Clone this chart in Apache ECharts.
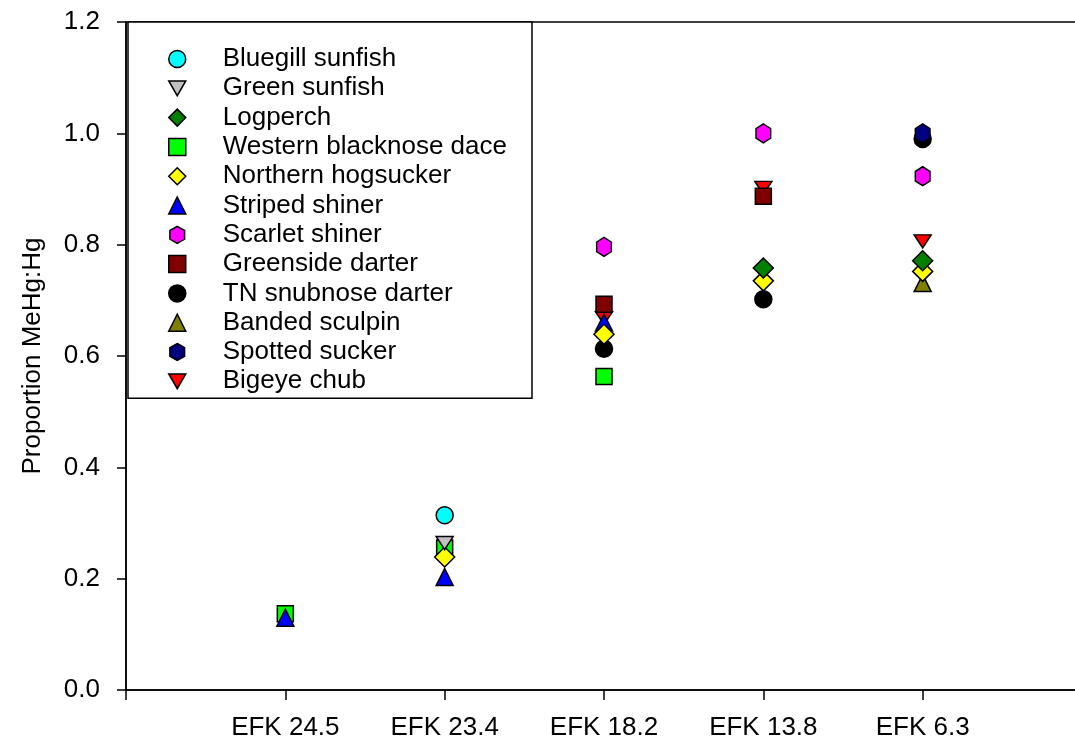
<!DOCTYPE html>
<html>
<head>
<meta charset="utf-8">
<title>Proportion MeHg:Hg by site</title>
<script src="https://cdn.jsdelivr.net/npm/echarts@6/dist/echarts.min.js"></script>
<style>
  html, body { margin: 0; padding: 0; background: #fff; }
  #chart { width: 1075px; height: 742px; }
</style>
</head>
<body>
<div id="chart"></div>
<script>
// Sampling sites along East Fork Poplar Creek (upstream -> downstream)
const sites = ['EFK 24.5', 'EFK 23.4', 'EFK 18.2', 'EFK 13.8', 'EFK 6.3'];

// Proportion MeHg:Hg per species at each site (null = not sampled)
const bluegillSunfish      = [null, 0.314, null,  null,  null ];
const greenSunfish         = [null, 0.264, null,  null,  null ];
const logperch             = [null, null,  null,  0.758, 0.771];
const westernBlacknoseDace = [0.137, 0.255, 0.563, null, null ];
const northernHogsucker    = [null, 0.239, 0.639, 0.735, 0.752];
const stripedShiner        = [0.130, 0.203, 0.660, null, null ];
const scarletShiner        = [null, null,  0.796, 1.000, 0.923];
const greensideDarter      = [null, null,  0.693, 0.887, null ];
const tnSnubnoseDarter     = [null, null,  0.613, 0.702, 0.990];
const bandedSculpin        = [null, null,  null,  null,  0.731];
const spottedSucker        = [null, null,  null,  null,  1.000];
const bigeyeChub           = [null, null,  0.668, 0.902, 0.806];

const speciesNames = [
  'Bluegill sunfish', 'Green sunfish', 'Logperch', 'Western blacknose dace',
  'Northern hogsucker', 'Striped shiner', 'Scarlet shiner', 'Greenside darter',
  'TN snubnose darter', 'Banded sculpin', 'Spotted sucker', 'Bigeye chub'
];
const speciesValues = [
  bluegillSunfish, greenSunfish, logperch, westernBlacknoseDace,
  northernHogsucker, stripedShiner, scarletShiner, greensideDarter,
  tnSnubnoseDarter, bandedSculpin, spottedSucker, bigeyeChub
];

// Marker shapes
const DOWN_TRIANGLE = 'path://M0,0 L20,0 L10,17.32 Z';
const HEXAGON = 'path://M8.66,0 L17.32,5 L17.32,15 L8.66,20 L0,15 L0,5 Z';

const markerStyles = [
  { symbol: 'circle',      size: 17,       color: '#00FFFF' },
  { symbol: DOWN_TRIANGLE, size: [17, 15], color: '#C0C0C0' },
  { symbol: 'diamond',     size: 20,       color: '#008000' },
  { symbol: 'rect',        size: 16,       color: '#00FF00' },
  { symbol: 'diamond',     size: 20,       color: '#FFFF00' },
  { symbol: 'triangle',    size: 17,       color: '#0000FF' },
  { symbol: HEXAGON,       size: [17, 19], color: '#FF00FF' },
  { symbol: 'rect',        size: 16,       color: '#800000' },
  { symbol: 'circle',      size: 17,       color: '#000000' },
  { symbol: 'triangle',    size: 17,       color: '#808000' },
  { symbol: HEXAGON,       size: [17, 19], color: '#000080' },
  { symbol: DOWN_TRIANGLE, size: [17, 15], color: '#FF0000' }
];

// Stacking order of the markers, bottom layer first
const drawOrder = [11, 9, 8, 3, 10, 7, 6, 5, 4, 2, 1, 0];

const FONT = "'Liberation Sans', Arial, Helvetica, sans-serif";

const series = drawOrder.map(function (idx) {
  const st = markerStyles[idx];
  const data = [];
  speciesValues[idx].forEach(function (v, i) {
    if (v !== null) data.push([i + 1, v]);
  });
  return {
    name: speciesNames[idx],
    type: 'scatter',
    data: data,
    symbol: st.symbol,
    symbolSize: st.size,
    symbolKeepAspect: true,
    itemStyle: { color: st.color, borderColor: '#000', borderWidth: 1.5, opacity: 1 },
    emphasis: { disabled: true },
    silent: true
  };
});

const chart = echarts.init(document.getElementById('chart'), null, { renderer: 'canvas' });
chart.setOption({
  animation: false,
  backgroundColor: '#fff',
  grid: {
    left: 126, top: 22, bottom: 52, right: -7,
    containLabel: false,
    outerBoundsMode: 'none',
    show: true, borderColor: '#000', borderWidth: 1.5, backgroundColor: 'transparent'
  },
  legend: {
    data: speciesNames,
    orient: 'vertical',
    left: 128, top: 22,
    padding: [24, 25, 4, 40],
    itemWidth: 17, itemHeight: 17, itemGap: 3.3,
    backgroundColor: '#fff', borderColor: '#000', borderWidth: 1.5,
    itemStyle: { borderWidth: 1.5 },
    textStyle: { fontSize: 26, fontFamily: FONT, color: '#000', padding: [0, 0, 0, 32] },
    selectedMode: false,
    z: 20
  },
  xAxis: {
    type: 'value',
    min: 0, max: 6, interval: 1,
    axisLine: { show: true, lineStyle: { color: '#000', width: 1.5 } },
    axisTick: { show: true, length: 10, lineStyle: { color: '#000', width: 1.5 } },
    axisLabel: {
      margin: 25, fontSize: 26, fontFamily: FONT, color: '#000',
      formatter: function (v) { return (v >= 1 && v <= sites.length) ? sites[v - 1] : ''; }
    },
    splitLine: { show: false }
  },
  yAxis: {
    type: 'value',
    min: 0, max: 1.2, interval: 0.2,
    name: 'Proportion MeHg:Hg',
    nameLocation: 'middle',
    nameGap: 80,
    nameTextStyle: { fontSize: 26, fontFamily: FONT, color: '#000' },
    axisLine: { show: true, lineStyle: { color: '#000', width: 1.5 } },
    axisTick: { show: true, length: 9, lineStyle: { color: '#000', width: 1.5 } },
    axisLabel: {
      margin: 26, fontSize: 26, fontFamily: FONT, color: '#000',
      formatter: function (v) { return v.toFixed(1); }
    },
    splitLine: { show: false }
  },
  series: series
});
</script>
</body>
</html>
